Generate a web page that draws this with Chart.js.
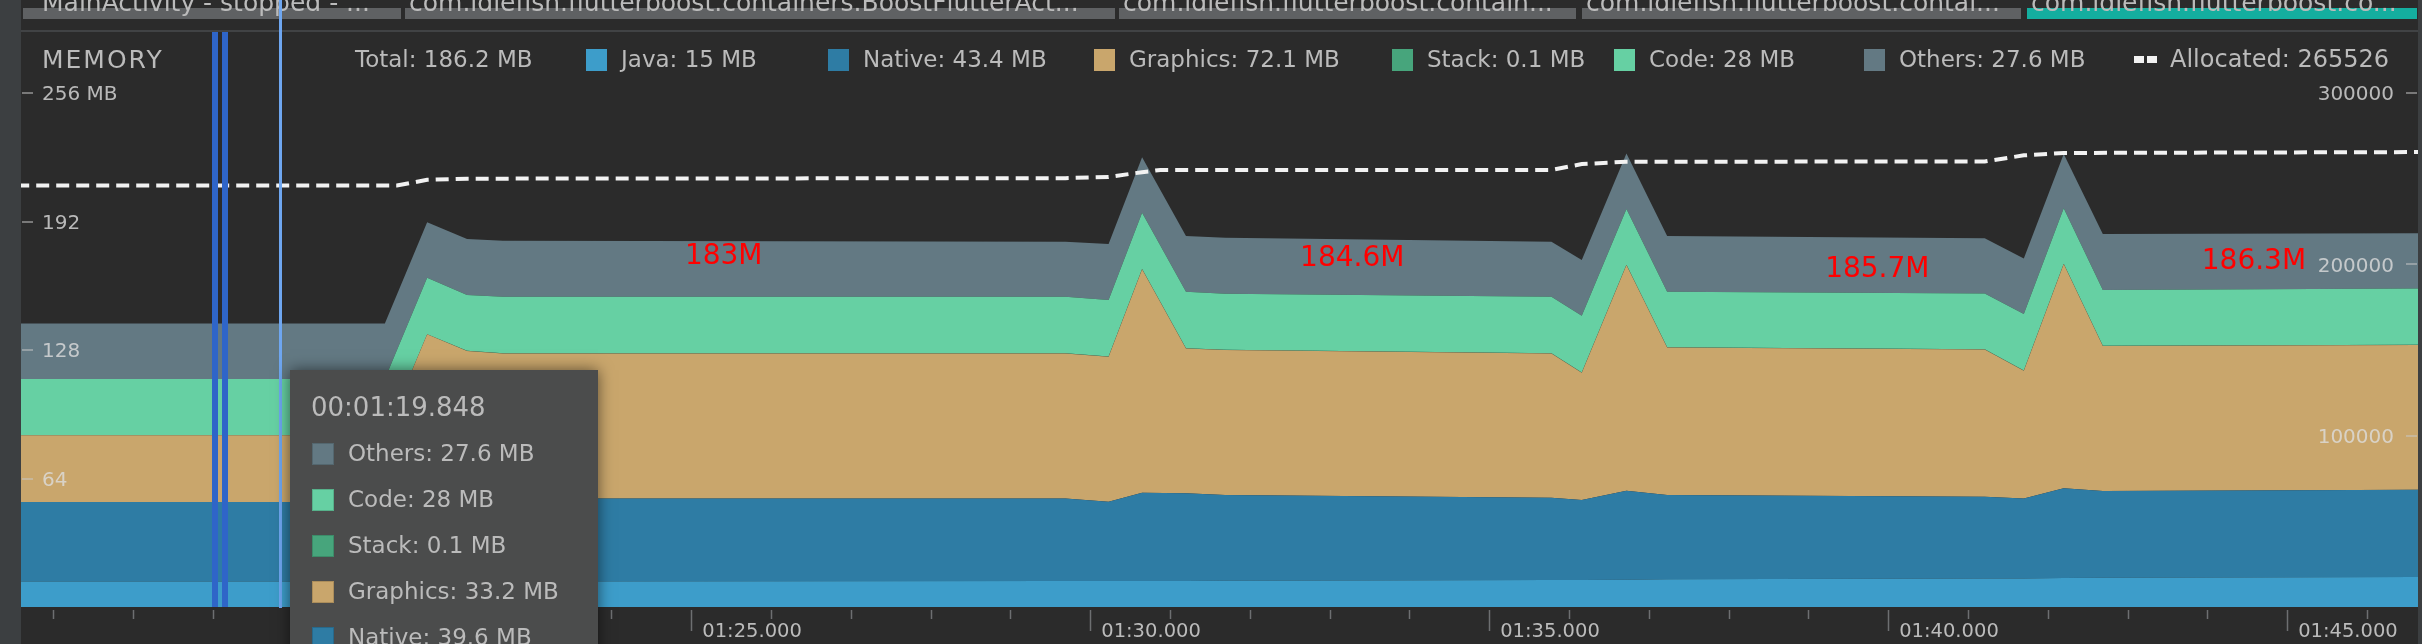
<!DOCTYPE html>
<html>
<head>
<meta charset="utf-8">
<title>Memory profiler</title>
<script src="https://cdn.jsdelivr.net/npm/chart.js@4.4.1/dist/chart.umd.min.js"></script>
<style>
    html, body { margin: 0; padding: 0; background: #2b2b2b; }
    canvas { display: block; }
</style>
</head>
<body>
<canvas id="memChart" width="2422" height="644"></canvas>
<script>
// sample times in seconds (01:25.000 = 85)
var times = [76.54, 81.16, 81.69, 82.19, 82.64, 89.69, 90.23, 90.65, 91.20, 91.69,
             95.78, 96.16, 96.72, 97.23, 101.21, 101.70, 102.20, 102.69, 106.64];

// memory by category, MB
var javaMB     = [12.7, 12.7, 12.7, 12.7, 12.7, 12.9, 12.9, 13.0, 13.0, 13.1, 13.5, 13.5, 13.6, 13.8, 14.2, 14.2, 14.4, 14.6, 15.0];
var nativeMB   = [39.6, 39.6, 41.4, 41.4, 41.4, 41.2, 39.5, 43.9, 43.6, 42.7, 40.9, 39.8, 44.3, 42.0, 40.7, 39.9, 44.7, 43.2, 43.4];
var graphicsMB = [33.2, 33.2, 81.7, 73.4, 72.2, 72.2, 72.3, 111.3, 72.2, 72.2, 71.9, 63.4, 112.4, 73.5, 73.4, 63.6, 111.7, 72.2, 72.1];
var stackMB    = [0.1, 0.1, 0.1, 0.1, 0.1, 0.1, 0.1, 0.1, 0.1, 0.1, 0.1, 0.1, 0.1, 0.1, 0.1, 0.1, 0.1, 0.1, 0.1];
var codeMB     = [28.0, 28.0, 28.1, 27.8, 28.1, 28.1, 28.1, 28.1, 28.1, 27.9, 28.1, 28.3, 27.8, 27.6, 27.8, 28.1, 27.7, 27.8, 28.0];
var othersMB   = [27.6, 27.6, 27.6, 27.9, 27.9, 27.4, 27.9, 27.6, 27.8, 27.9, 27.4, 27.7, 27.7, 27.8, 27.4, 27.7, 27.0, 27.9, 27.6];

// allocated object count (right axis)
var allocTimes = [76.54, 81.31, 81.69, 82.19, 89.69, 90.23, 90.65, 90.88, 95.78, 96.16, 96.72, 101.21, 101.70, 102.20, 106.64];
var allocated  = [246000, 246000, 249300, 250000, 250300, 251000, 253800, 255100, 255100, 258500, 259900, 260000, 263600, 265000, 265526];

var memTicks = [0, 64, 128, 192, 256];
var countTicks = [0, 100000, 200000, 300000];
var timeMin = 76.60, timeMax = 106.64;

// selection markers and hover position
var rangeTimes = [79.03, 79.16];
var hoverTime = 79.848;

// red notes written on the screenshot
var noteText   = ['183M', '184.6M', '185.7M', '186.3M'];
var noteTimes  = [84.92, 92.63, 99.21, 103.93];
var noteLevels = [174.5, 173.7, 167.8, 172.0];

var tabTitles = ['MainActivity - stopped - ...',
                 'com.idlefish.flutterboost.containers.BoostFlutterAct...',
                 'com.idlefish.flutterboost.contain...',
                 'com.idlefish.flutterboost.contai...',
                 'com.idlefish.flutterboost.co...'];

var COLORS = {
    java: '#3d9dca', native: '#2e7ca4', graphics: '#c9a66c',
    stack: '#47a57c', code: '#66d0a3', others: '#637983'
};
var FONT = '"DejaVu Sans", sans-serif';
var TEXT = '#bbbbbb';

function pts(xs, ys) {
    return xs.map(function (x, i) { return {x: x, y: ys[i]}; });
}
function fmt(v) {
    return String(parseFloat(v.toFixed(1)));
}
function pad(n, w) {
    var s = String(n);
    while (s.length < w) s = '0' + s;
    return s;
}
function timeLabel(t) {
    var m = Math.floor(t / 60);
    var s = t - m * 60;
    return pad(m, 2) + ':' + pad(s.toFixed(3), 6);
}
function valueAt(arr, t) {
    var idx = 0;
    for (var i = 0; i < times.length; i++) if (times[i] <= t) idx = i;
    return arr[idx];
}

var last = times.length - 1;
var totalNow = javaMB[last] + nativeMB[last] + graphicsMB[last] + stackMB[last] + codeMB[last] + othersMB[last];

var profilerChrome = {
    id: 'profilerChrome',
    beforeDraw: function (chart) {
        var c = chart.ctx, a = chart.chartArea, W = chart.width, H = chart.height;
        c.save();
        c.fillStyle = '#2b2b2b';
        c.fillRect(0, 0, W, H);
        c.fillStyle = '#3c3f41';
        c.fillRect(0, 0, a.left, H);
        c.fillRect(a.right, 0, W - a.right, H);

        // activity tabs
        var starts = [a.left + 2, 405, 1119, 1582, 2027];
        var ends = [401, 1115, 1576, 2021, a.right - 1];
        var textX = [42, 409, 1123, 1586, 2031];
        for (var i = 0; i < tabTitles.length; i++) {
            c.fillStyle = i === tabTitles.length - 1 ? '#14ae9f' : '#5f6163';
            c.fillRect(starts[i], 8, ends[i] - starts[i], 11);
        }
        c.font = '25px ' + FONT;
        c.fillStyle = TEXT;
        c.textBaseline = 'alphabetic';
        c.textAlign = 'left';
        for (var j = 0; j < tabTitles.length; j++) {
            c.fillText(tabTitles[j], textX[j], 11, ends[j] - textX[j] - 2);
        }
        c.fillStyle = '#414345';
        c.fillRect(a.left, 30, a.right - a.left, 2);
        c.restore();
    },
    afterDatasetsDraw: function (chart) {
        var c = chart.ctx, a = chart.chartArea;
        var xs = chart.scales.x, ys = chart.scales.y, y2 = chart.scales.y2;
        c.save();

        // selection range lines
        c.strokeStyle = '#2f65c8';
        c.lineWidth = 6;
        rangeTimes.forEach(function (t) {
            var px = Math.round(xs.getPixelForValue(t));
            c.beginPath();
            c.moveTo(px, 32);
            c.lineTo(px, a.bottom);
            c.stroke();
        });
        // hover line
        var hx = Math.round(xs.getPixelForValue(hoverTime)) + 0.5;
        c.strokeStyle = '#6ea6f0';
        c.lineWidth = 3;
        c.beginPath();
        c.moveTo(hx, 0);
        c.lineTo(hx, a.bottom + 1);
        c.stroke();

        // value axis tick marks, drawn inside the plot
        c.lineWidth = 2;
        c.strokeStyle = 'rgba(200,200,200,0.5)';
        memTicks.forEach(function (v) {
            if (v === 0) return;
            var py = Math.round(ys.getPixelForValue(v));
            c.beginPath();
            c.moveTo(a.left + 1, py);
            c.lineTo(a.left + 12, py);
            c.stroke();
        });
        countTicks.forEach(function (v) {
            if (v === 0) return;
            var py = Math.round(y2.getPixelForValue(v));
            c.beginPath();
            c.moveTo(a.right - 12, py);
            c.lineTo(a.right - 1, py);
            c.stroke();
        });

        // time axis tick marks
        c.strokeStyle = '#6d6f71';
        c.lineWidth = 1.5;
        for (var t = Math.ceil(timeMin); t <= timeMax; t++) {
            var px = Math.round(xs.getPixelForValue(t)) + 0.5;
            var len = t % 5 === 0 ? 21 : 9;
            c.beginPath();
            c.moveTo(px, a.bottom + 3);
            c.lineTo(px, a.bottom + 3 + len);
            c.stroke();
        }

        // red notes
        c.fillStyle = '#ff0000';
        c.font = '28px ' + FONT;
        c.textAlign = 'left';
        c.textBaseline = 'middle';
        for (var i = 0; i < noteText.length; i++) {
            c.fillText(noteText[i], xs.getPixelForValue(noteTimes[i]), ys.getPixelForValue(noteLevels[i]));
        }
        c.restore();
    },
    afterDraw: function (chart) {
        var c = chart.ctx, xs = chart.scales.x;
        c.save();
        c.textBaseline = 'middle';
        c.textAlign = 'left';

        // header legend
        var ly = 61;
        c.fillStyle = TEXT;
        c.font = '25px ' + FONT;
        c.letterSpacing = '2px';
        c.fillText('MEMORY', 42, ly);
        c.letterSpacing = '0px';
        c.font = '23px ' + FONT;
        c.fillText('Total: ' + fmt(totalNow) + ' MB', 355, ly);
        var items = [
            ['Java', javaMB, COLORS.java, 586],
            ['Native', nativeMB, COLORS.native, 828],
            ['Graphics', graphicsMB, COLORS.graphics, 1094],
            ['Stack', stackMB, COLORS.stack, 1392],
            ['Code', codeMB, COLORS.code, 1614],
            ['Others', othersMB, COLORS.others, 1864]
        ];
        items.forEach(function (it) {
            c.fillStyle = it[2];
            c.fillRect(it[3], ly - 12, 21, 22);
            c.fillStyle = TEXT;
            c.fillText(it[0] + ': ' + fmt(it[1][last]) + ' MB', it[3] + 35, ly);
        });
        c.fillStyle = '#f2f2f2';
        c.fillRect(2134, ly - 5, 10, 7);
        c.fillRect(2147, ly - 5, 10, 7);
        c.fillStyle = TEXT;
        c.font = '24px ' + FONT;
        c.fillText('Allocated: ' + allocated[allocated.length - 1], 2170, ly);

        // hover tooltip
        var bx = Math.round(xs.getPixelForValue(hoverTime)) + 10;
        var by = 370, bw = 308, bh = 300;
        c.shadowColor = 'rgba(0,0,0,0.55)';
        c.shadowBlur = 14;
        c.fillStyle = '#4b4c4c';
        c.fillRect(bx, by, bw, bh);
        c.shadowBlur = 0;
        c.shadowColor = 'transparent';
        c.fillStyle = TEXT;
        c.font = '26px ' + FONT;
        c.fillText('00:' + timeLabel(hoverTime), bx + 21, by + 39);
        var rows = [
            ['Others', othersMB, COLORS.others],
            ['Code', codeMB, COLORS.code],
            ['Stack', stackMB, COLORS.stack],
            ['Graphics', graphicsMB, COLORS.graphics],
            ['Native', nativeMB, COLORS.native]
        ];
        c.font = '23px ' + FONT;
        rows.forEach(function (r, i) {
            var ry = by + 85 + i * 46;
            c.fillStyle = r[2];
            c.fillRect(bx + 22, ry - 12, 22, 22);
            c.strokeStyle = 'rgba(0,0,0,0.15)';
            c.lineWidth = 1;
            c.strokeRect(bx + 22.5, ry - 11.5, 21, 21);
            c.fillStyle = TEXT;
            c.fillText(r[0] + ': ' + fmt(valueAt(r[1], hoverTime)) + ' MB', bx + 58, ry);
        });
        c.restore();
    }
};

function area(label, values, color, fill) {
    return {
        label: label,
        data: pts(times, values),
        backgroundColor: color,
        borderColor: color,
        borderWidth: 0,
        fill: fill,
        pointRadius: 0,
        tension: 0,
        order: 0
    };
}

var ctx = document.getElementById('memChart').getContext('2d');
new Chart(ctx, {
    type: 'line',
    data: {
        datasets: [
            area('Java', javaMB, COLORS.java, 'origin'),
            area('Native', nativeMB, COLORS.native, '-1'),
            area('Graphics', graphicsMB, COLORS.graphics, '-1'),
            area('Stack', stackMB, COLORS.stack, '-1'),
            area('Code', codeMB, COLORS.code, '-1'),
            area('Others', othersMB, COLORS.others, '-1'),
            {
                label: 'Allocated',
                data: pts(allocTimes, allocated),
                yAxisID: 'y2',
                borderColor: '#f2f2f2',
                borderWidth: 4,
                borderDash: [13, 7],
                fill: false,
                pointRadius: 0,
                tension: 0,
                order: -1
            }
        ]
    },
    options: {
        responsive: false,
        animation: false,
        devicePixelRatio: 1,
        layout: {padding: {top: 93, left: 21, right: 4, bottom: 0}},
        plugins: {
            legend: {display: false},
            tooltip: {enabled: false}
        },
        scales: {
            x: {
                type: 'linear',
                min: timeMin,
                max: timeMax,
                grid: {display: false, drawTicks: false},
                border: {display: false},
                afterBuildTicks: function (s) {
                    var ticks = [];
                    for (var t = Math.ceil(timeMin); t <= timeMax; t++) ticks.push({value: t});
                    s.ticks = ticks;
                },
                ticks: {
                    autoSkip: false,
                    maxRotation: 0,
                    align: 'start',
                    labelOffset: 11,
                    padding: 13,
                    color: TEXT,
                    font: {family: FONT, size: 19.5},
                    callback: function (v) {
                        return Math.abs(v % 5) < 1e-6 ? timeLabel(v) : '';
                    }
                },
                afterFit: function (s) {
                    s.height = 37;
                    s.paddingLeft = 0;
                    s.paddingRight = 0;
                }
            },
            y: {
                stacked: true,
                position: 'left',
                min: 0,
                max: 256,
                grid: {display: false, drawTicks: false},
                border: {display: false},
                ticks: {
                    z: 1,
                    stepSize: 64,
                    mirror: true,
                    padding: 21,
                    labelOffset: 2,
                    color: 'rgba(221,221,221,0.8)',
                    font: {family: FONT, size: 20},
                    callback: function (v) {
                        if (v === 0) return '';
                        return v === 256 ? '256 MB' : String(v);
                    }
                },
                afterFit: function (s) {
                    s.width = 0;
                    s.paddingTop = 0;
                    s.paddingBottom = 0;
                }
            },
            y2: {
                position: 'right',
                min: 0,
                max: 300000,
                grid: {display: false, drawTicks: false},
                border: {display: false},
                ticks: {
                    z: 1,
                    stepSize: 100000,
                    mirror: true,
                    padding: -24,
                    labelOffset: 2,
                    color: 'rgba(221,221,221,0.8)',
                    font: {family: FONT, size: 20},
                    callback: function (v) {
                        return v === 0 ? '' : String(v);
                    }
                },
                afterFit: function (s) {
                    s.width = 0;
                    s.paddingTop = 0;
                    s.paddingBottom = 0;
                }
            }
        }
    },
    plugins: [profilerChrome]
});
</script>
</body>
</html>
